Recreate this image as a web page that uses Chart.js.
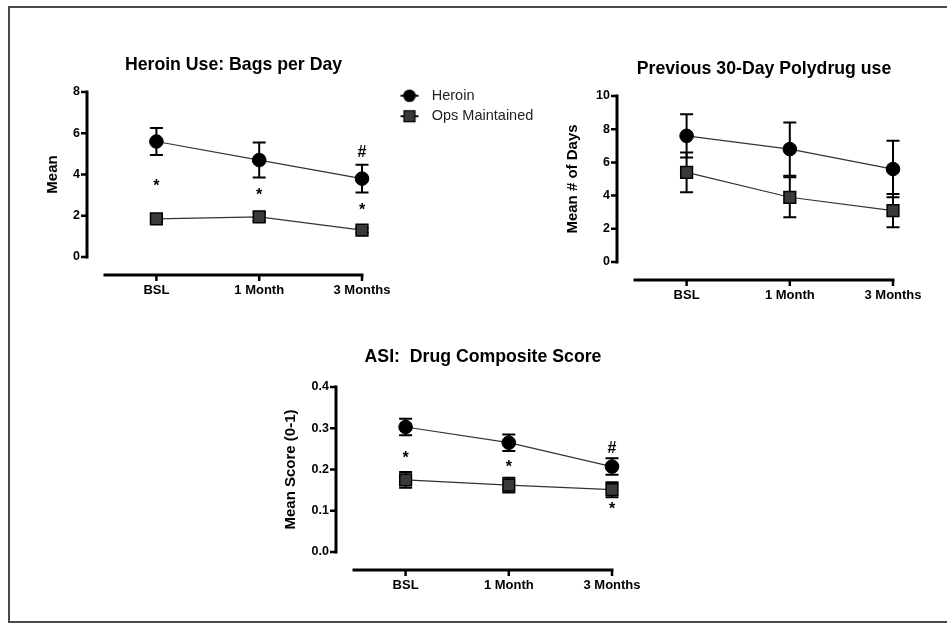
<!DOCTYPE html>
<html>
<head>
<meta charset="utf-8">
<script src="https://cdn.jsdelivr.net/npm/chart.js@4.4.1/dist/chart.umd.min.js"></script>
<style>
  html, body { margin: 0; padding: 0; background: #fff; overflow: hidden; }
  body { width: 947px; height: 624px; position: relative; }
  #frame { position: absolute; left: 8px; top: 6px; width: 980px; height: 613px; border: 2px solid #4a4a4a; }
  canvas { position: absolute; }
</style>
</head>
<body>
<div id="frame"></div>
<canvas id="bags" width="422" height="307" style="left:0;top:0"></canvas>
<canvas id="poly" width="413" height="312" style="left:540px;top:0"></canvas>
<canvas id="asi" width="412" height="282" style="left:260px;top:320px"></canvas>
<canvas id="legend" width="400" height="80" style="left:380px;top:70px"></canvas>
<script>
const categories = ['BSL', '1 Month', '3 Months'];

// Heroin Use: Bags per Day
const bagsHeroin = [5.6, 4.7, 3.8];
const bagsHeroinErr = [0.65, 0.85, 0.67];
const bagsOps = [1.85, 1.95, 1.3];
const bagsOpsErr = [0.15, 0.2, 0.12];
const bagsMarks = [[0, 3.55, '*'], [1, 3.1, '*'], [2, 2.4, '*'], [2, 5.05, '#']];

// Previous 30-Day Polydrug use
const polyHeroin = [7.6, 6.8, 5.6];
const polyHeroinErr = [1.3, 1.6, 1.7];
const polyOps = [5.4, 3.9, 3.1];
const polyOpsErr = [1.2, 1.2, 1.0];

// ASI: Drug Composite Score
const asiHeroin = [0.303, 0.265, 0.207];
const asiHeroinErr = [0.02, 0.02, 0.02];
const asiOps = [0.175, 0.162, 0.151];
const asiOpsErr = [0.019, 0.018, 0.018];
const asiMarks = [[0, 0.233, '*'], [1, 0.213, '*'], [2, 0.11, '*'], [2, 0.251, '#']];

Chart.defaults.font.family = '"Liberation Sans", Arial, sans-serif';
Chart.defaults.color = '#000';

const AXIS_GAP = 18;

// prism-style axes: detached from the data area
const offsetAxes = {
  id: 'offsetAxes',
  afterDraw(chart) {
    const {ctx} = chart;
    const x = chart.scales.x, y = chart.scales.y;
    const left = x.getPixelForValue(x.min), right = x.getPixelForValue(x.max);
    const bottom = y.getPixelForValue(y.min), top = y.getPixelForValue(y.max);
    const ax = left - AXIS_GAP, ay = bottom + AXIS_GAP;
    ctx.save();
    ctx.strokeStyle = '#000';
    ctx.lineWidth = 3;
    ctx.lineCap = 'square';
    ctx.beginPath();
    ctx.moveTo(ax, bottom); ctx.lineTo(ax, top);
    ctx.moveTo(left, ay); ctx.lineTo(right, ay);
    ctx.stroke();
    ctx.lineWidth = 2.5;
    ctx.lineCap = 'butt';
    ctx.beginPath();
    y.ticks.forEach(t => {
      const py = y.getPixelForValue(t.value);
      ctx.moveTo(ax - 6, py); ctx.lineTo(ax, py);
    });
    x.ticks.forEach(t => {
      const px = x.getPixelForValue(t.value);
      ctx.moveTo(px, ay); ctx.lineTo(px, ay + 6);
    });
    ctx.stroke();
    ctx.restore();
  }
};

const errorBars = {
  id: 'errorBars',
  beforeDatasetsDraw(chart) {
    const {ctx} = chart;
    const y = chart.scales.y;
    ctx.save();
    ctx.strokeStyle = '#000';
    ctx.lineWidth = 2;
    chart.data.datasets.forEach((ds, di) => {
      chart.getDatasetMeta(di).data.forEach((pt, i) => {
        const v = ds.data[i].y, e = ds.errors[i];
        const hi = y.getPixelForValue(v + e), lo = y.getPixelForValue(v - e);
        ctx.beginPath();
        ctx.moveTo(pt.x, hi); ctx.lineTo(pt.x, lo);
        ctx.moveTo(pt.x - 6.5, hi); ctx.lineTo(pt.x + 6.5, hi);
        ctx.moveTo(pt.x - 6.5, lo); ctx.lineTo(pt.x + 6.5, lo);
        ctx.stroke();
      });
    });
    ctx.restore();
  }
};

const sigMarks = {
  id: 'sigMarks',
  afterDatasetsDraw(chart, args, opts) {
    const {ctx} = chart;
    const x = chart.scales.x, y = chart.scales.y;
    ctx.save();
    ctx.fillStyle = '#000';
    ctx.font = 'bold 16px "Liberation Sans", Arial, sans-serif';
    ctx.textAlign = 'center';
    ctx.textBaseline = 'middle';
    (opts.marks || []).forEach(([i, v, s]) => {
      ctx.fillText(s, x.getPixelForValue(i), y.getPixelForValue(v) + (s === '*' ? 3 : 0));
    });
    ctx.restore();
  }
};

function series(label, values, errors, shape) {
  const round = shape === 'circle';
  return {
    label,
    data: values.map((v, i) => ({x: i, y: v})),
    errors,
    pointStyle: shape,
    pointRadius: round ? 6.8 : 8.3,
    pointBackgroundColor: round ? '#000' : '#3a3a3a',
    pointBorderColor: '#000',
    pointBorderWidth: round ? 1 : 1.5,
    borderColor: '#333',
    borderWidth: 1.2,
    clip: false
  };
}

function makePlot(id, cfg) {
  return new Chart(document.getElementById(id), {
    type: 'line',
    data: {
      datasets: [
        series('Heroin', cfg.heroin, cfg.heroinErr, 'circle'),
        series('Ops Maintained', cfg.ops, cfg.opsErr, 'rect')
      ]
    },
    options: {
      responsive: false,
      animation: false,
      layout: { padding: cfg.padding },
      plugins: {
        legend: { display: false },
        tooltip: { enabled: false },
        title: {
          display: true,
          text: cfg.title,
          fullSize: false,
          color: '#000',
          font: { size: 17.7, weight: 'bold' },
          padding: cfg.titlePadding
        },
        sigMarks: { marks: cfg.marks || [] }
      },
      scales: {
        x: {
          type: 'linear',
          min: -0.5,
          max: 2,
          grid: { display: false, drawTicks: false },
          border: { display: false },
          afterBuildTicks: s => { s.ticks = categories.map((c, i) => ({ value: i })); },
          afterFit: s => { s.height = 50; },
          ticks: {
            padding: 26,
            color: '#000',
            font: { size: 13, weight: 'bold' },
            callback: v => categories[v]
          }
        },
        y: {
          min: 0,
          max: cfg.yMax,
          grid: { display: false, drawTicks: false },
          border: { display: false },
          afterFit: s => { s.width = cfg.yWidth; },
          ticks: {
            stepSize: cfg.yStep,
            padding: 25,
            color: '#000',
            font: { size: 12.5, weight: 'bold' },
            callback: cfg.yFormat
          },
          title: {
            display: true,
            text: cfg.yTitle,
            color: '#000',
            font: { size: 15, weight: 'bold' },
            padding: 0
          }
        }
      }
    },
    plugins: [offsetAxes, errorBars, sigMarks]
  });
}

makePlot('bags', {
  title: 'Heroin Use: Bags per Day',
  yTitle: 'Mean',
  heroin: bagsHeroin, heroinErr: bagsHeroinErr,
  ops: bagsOps, opsErr: bagsOpsErr,
  marks: bagsMarks,
  yMax: 8, yStep: 2, yFormat: v => v.toFixed(0),
  padding: { left: 44, right: 60, top: 0, bottom: 0 },
  yWidth: 61,
  titlePadding: { top: 54.4, bottom: 16.36 }
});

makePlot('poly', {
  title: 'Previous 30-Day Polydrug use',
  yTitle: 'Mean # of Days',
  heroin: polyHeroin, heroinErr: polyHeroinErr,
  ops: polyOps, opsErr: polyOpsErr,
  yMax: 10, yStep: 2, yFormat: v => v.toFixed(0),
  padding: { left: 24, right: 60, top: 0, bottom: 0 },
  yWidth: 71,
  titlePadding: { top: 58.7, bottom: 16.06 }
});

makePlot('asi', {
  title: 'ASI:  Drug Composite Score',
  yTitle: 'Mean Score (0-1)',
  heroin: asiHeroin, heroinErr: asiHeroinErr,
  ops: asiOps, opsErr: asiOpsErr,
  marks: asiMarks,
  yMax: 0.4, yStep: 0.1, yFormat: v => v.toFixed(1),
  padding: { left: 22, right: 60, top: 0, bottom: 0 },
  yWidth: 72,
  titlePadding: { top: 26.4, bottom: 19.36 }
});

// legend icons: marker on a short line, like the plotted series
function legendIcon(shape) {
  const c = document.createElement('canvas');
  c.width = 22; c.height = 16;
  const g = c.getContext('2d');
  g.strokeStyle = '#111';
  g.lineWidth = 2;
  g.beginPath(); g.moveTo(2, 8); g.lineTo(20, 8); g.stroke();
  if (shape === 'circle') {
    g.fillStyle = '#000';
    g.beginPath(); g.arc(11, 8, 6.3, 0, Math.PI * 2); g.fill();
  } else {
    g.fillStyle = '#3a3a3a';
    g.fillRect(5.5, 2.5, 11, 11);
    g.lineWidth = 1.2;
    g.strokeStyle = '#000';
    g.strokeRect(5.5, 2.5, 11, 11);
  }
  return c;
}

new Chart(document.getElementById('legend'), {
  type: 'line',
  data: {
    datasets: [
      { label: 'Heroin', data: [], pointStyle: legendIcon('circle') },
      { label: 'Ops Maintained', data: [], pointStyle: legendIcon('rect') }
    ]
  },
  options: {
    responsive: false,
    animation: false,
    layout: { padding: { left: 8.5, top: 12.5 } },
    scales: { x: { display: false }, y: { display: false } },
    plugins: {
      tooltip: { enabled: false },
      legend: {
        position: 'left',
        align: 'start',
        onClick: null,
        labels: {
          usePointStyle: true,
          pointStyleWidth: 30,
          padding: 6,
          color: '#222',
          font: { size: 14.5 },
          generateLabels: chart => chart.data.datasets.map((ds, i) => ({
            text: ds.label,
            pointStyle: ds.pointStyle,
            fontColor: '#222',
            lineWidth: 0,
            hidden: false,
            datasetIndex: i
          }))
        }
      }
    }
  }
});
</script>
</body>
</html>
